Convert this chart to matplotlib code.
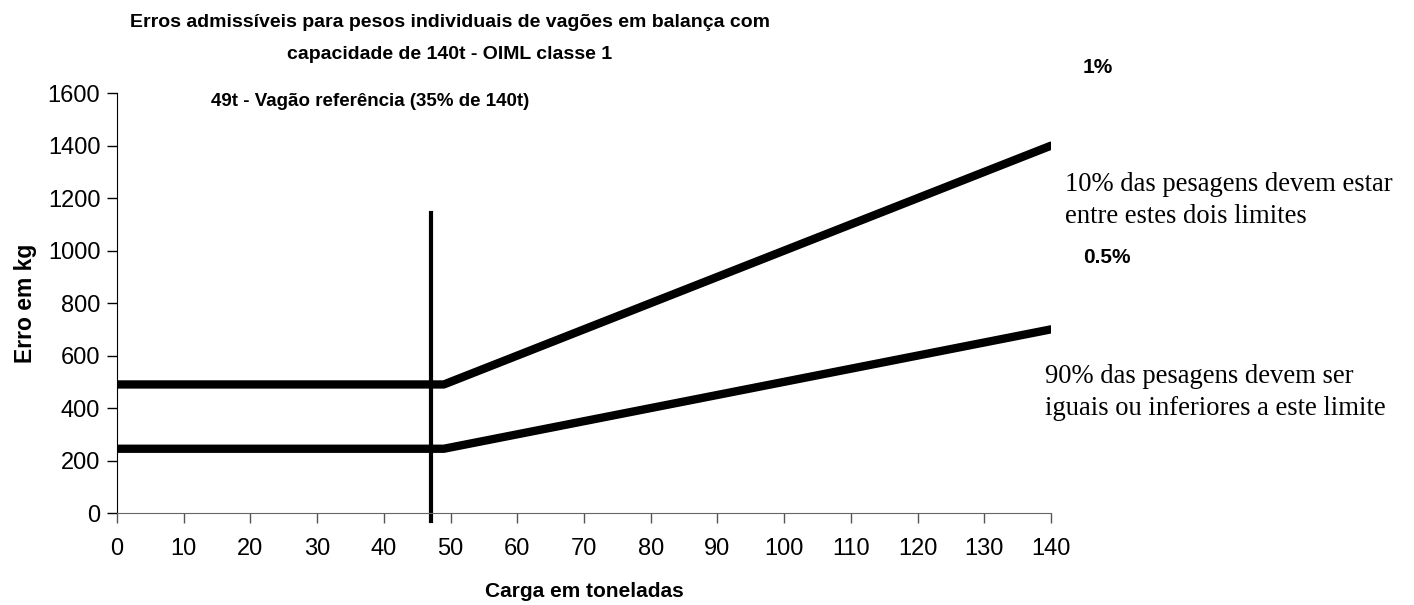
import matplotlib.pyplot as plt

# ---------------------------------------------------------
# DATA
# ---------------------------------------------------------

carga_t = [0, 49, 140]              # toneladas
erro_1pct = [490, 490, 1400]        # kg, limite 1%
erro_05pct = [245, 245, 700]        # kg, limite 0.5%

# linha vertical do vagão de referência
ref_x = [47, 47]
ref_y = [-30, 1145]

x_ticks = list(range(0, 141, 10))
y_ticks = list(range(0, 1601, 200))

# ---------------------------------------------------------
# PLOT
# ---------------------------------------------------------

plt.rcParams["font.family"] = ["Liberation Sans", "DejaVu Sans"]

fig = plt.figure(figsize=(14.14, 6.05), dpi=100)
ax = fig.add_axes([0.0827, 0.152, 0.6606, 0.694])

ax.plot(carga_t, erro_1pct, color="black", lw=6, solid_capstyle="round",
        solid_joinstyle="round")
ax.plot(carga_t, erro_05pct, color="black", lw=6, solid_capstyle="round",
        solid_joinstyle="round")
ax.plot(ref_x, ref_y, color="black", lw=3, clip_on=False)

ax.set_xlim(0, 140)
ax.set_ylim(0, 1600)
ax.set_xticks(x_ticks)
ax.set_yticks(y_ticks)
ax.tick_params(direction="out", length=7, width=1, labelsize=17)
ax.tick_params(axis="x", pad=11, colors="#555555", labelcolor="black")
ax.tick_params(axis="y", pad=5)

for s in ["top", "right"]:
    ax.spines[s].set_visible(False)
ax.spines["bottom"].set_color("#666666")
ax.spines["left"].set_color("black")

ax.set_xlabel("Carga em toneladas", fontsize=15, fontweight="bold", labelpad=16)
ax.set_ylabel("Erro em kg", fontsize=16.5, fontweight="bold", labelpad=8)

# título em duas linhas
fig.text(0.318, 0.963, "Erros admissíveis para pesos individuais de vagões em balança com",
         ha="center", va="center", fontsize=14, fontweight="bold")
fig.text(0.318, 0.910, "capacidade de 140t - OIML classe 1",
         ha="center", va="center", fontsize=14, fontweight="bold")

fig.text(0.2617, 0.832, "49t - Vagão referência (35% de 140t)", ha="center", va="center",
         fontsize=13.5, fontweight="bold")

fig.text(0.766, 0.889, "1%", ha="left", va="center", fontsize=15, fontweight="bold")
fig.text(0.766, 0.574, "0.5%", ha="left", va="center", fontsize=15, fontweight="bold")

fig.text(0.753, 0.716, "10% das pesagens devem estar\nentre estes dois limites",
         ha="left", va="top", fontsize=19.2, family="Liberation Serif", linespacing=1.4)
fig.text(0.739, 0.399, "90% das pesagens devem ser\niguais ou inferiores a este limite",
         ha="left", va="top", fontsize=19.2, family="Liberation Serif", linespacing=1.4)

fig.savefig("out.png", dpi=100)
